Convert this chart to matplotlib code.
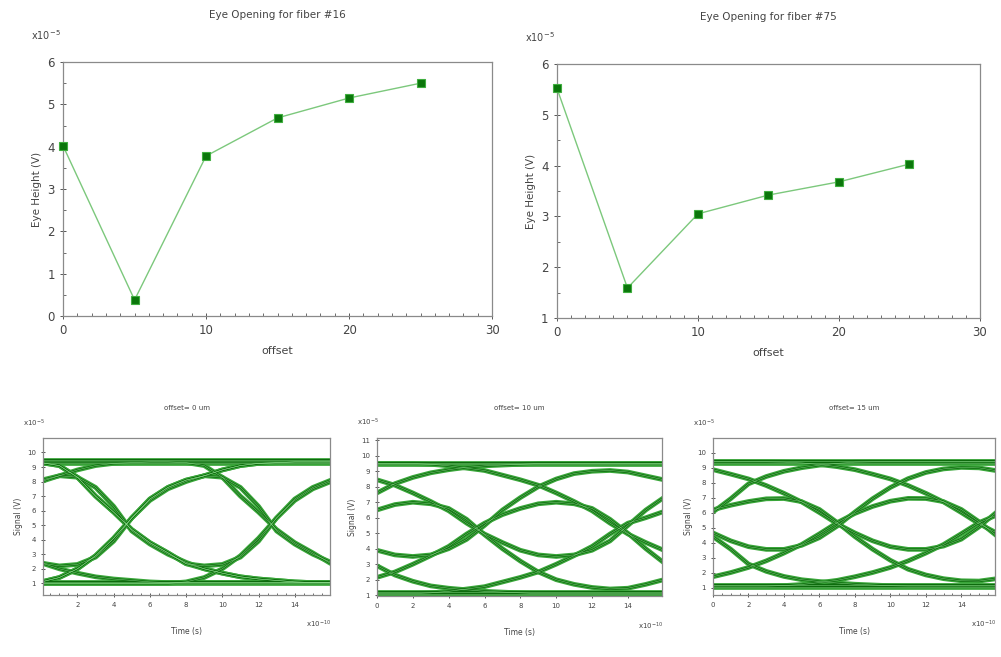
import matplotlib
matplotlib.use("Agg")
import matplotlib.pyplot as plt
from matplotlib.ticker import MultipleLocator
import numpy as np

# ---- top charts: eye height vs offset ----
offsets = [0, 5, 10, 15, 20, 25]
height_f16 = [4.02, 0.38, 3.78, 4.68, 5.15, 5.50]
height_f75 = [5.52, 1.59, 3.05, 3.42, 3.68, 4.03]

# ---- eye diagrams (time in 1e-10 s, signal in 1e-5 V) ----
t_eye = list(range(17))

eye_0um = [
    [9.45] * 17,
    [9.3] * 17,
    [1.0] * 17,
    [1.1] * 17,
    [9.3, 9.1, 8.3, 7.0, 5.9, 4.7, 3.8, 3.1, 2.35, 2.0, 1.7, 1.45, 1.3, 1.2, 1.1, 1.05, 1.05],
    [1.1, 1.4, 2.0, 2.9, 4.1, 5.5, 6.8, 7.6, 8.1, 8.4, 8.8, 9.1, 9.25, 9.3, 9.35, 9.35, 9.35],
    [1.1, 1.4, 2.0, 2.9, 4.1, 5.5, 6.8, 7.6, 8.1, 8.4, 8.3, 7.6, 6.3, 4.6, 3.7, 3.0, 2.45],
    [9.3, 9.1, 8.3, 7.0, 5.9, 4.7, 3.8, 3.1, 2.35, 2.2, 2.3, 2.8, 3.9, 5.5, 6.7, 7.5, 8.0],
    [1.0, 1.0, 1.0, 1.0, 1.0, 1.0, 1.0, 1.0, 1.1, 1.4, 2.0, 2.9, 4.1, 5.5, 6.8, 7.6, 8.1],
    [9.35, 9.35, 9.35, 9.35, 9.35, 9.35, 9.35, 9.35, 9.3, 9.1, 8.3, 7.0, 5.9, 4.7, 3.8, 3.1, 2.35],
    [8.1, 8.4, 8.3, 7.6, 6.3, 4.6, 3.7, 3.0, 2.45, 2.0, 1.7, 1.45, 1.3, 1.2, 1.1, 1.05, 1.05],
    [8.0, 8.4, 8.8, 9.1, 9.25, 9.3, 9.35, 9.35, 9.35, 9.35, 9.35, 9.35, 9.35, 9.35, 9.35, 9.35, 9.35],
    [2.4, 2.0, 1.7, 1.45, 1.3, 1.2, 1.1, 1.05, 1.05, 1.05, 1.05, 1.05, 1.05, 1.05, 1.05, 1.05, 1.05],
    [2.4, 2.2, 2.3, 2.8, 3.9, 5.5, 6.7, 7.5, 8.0, 8.4, 8.8, 9.1, 9.25, 9.3, 9.35, 9.35, 9.35],
]

eye_10um = [
    [9.55] * 17,
    [9.45] * 17,
    [1.1] * 17,
    [1.2] * 17,
    [9.5, 9.5, 9.5, 9.45, 9.35, 9.2, 9.05, 8.75, 8.45, 8.1, 7.6, 7.05, 6.45, 5.65, 4.95, 4.4, 3.9],
    [1.1, 1.1, 1.1, 1.15, 1.25, 1.4, 1.55, 1.85, 2.15, 2.5, 3.0, 3.55, 4.15, 4.95, 5.65, 6.0, 6.4],
    [8.45, 8.1, 7.6, 7.05, 6.45, 5.65, 4.95, 4.4, 3.9, 3.6, 3.5, 3.6, 3.9, 4.5, 5.5, 6.5, 7.3],
    [2.15, 2.5, 3.0, 3.55, 4.15, 4.95, 5.65, 6.2, 6.6, 6.9, 7.0, 6.9, 6.6, 5.9, 5.0, 4.0, 3.1],
    [6.5, 6.85, 7.0, 6.9, 6.6, 5.9, 4.9, 4.0, 3.2, 2.5, 2.0, 1.7, 1.5, 1.4, 1.45, 1.7, 2.0],
    [3.9, 3.6, 3.5, 3.6, 4.0, 4.6, 5.5, 6.5, 7.3, 8.0, 8.5, 8.85, 9.0, 9.05, 8.95, 8.7, 8.45],
    [7.6, 8.2, 8.6, 8.9, 9.1, 9.25, 9.35, 9.4, 9.45, 9.5, 9.5, 9.5, 9.5, 9.5, 9.5, 9.5, 9.5],
    [2.9, 2.3, 1.9, 1.6, 1.45, 1.35, 1.25, 1.2, 1.15, 1.1, 1.1, 1.1, 1.1, 1.1, 1.1, 1.1, 1.1],
]

eye_15um = [
    [9.45] * 17,
    [9.35] * 17,
    [1.05] * 17,
    [1.15] * 17,
    [9.4, 9.4, 9.4, 9.4, 9.38, 9.33, 9.22, 9.08, 8.88, 8.58, 8.26, 7.82, 7.3, 6.72, 6.01, 5.26, 4.65],
    [1.1, 1.1, 1.1, 1.1, 1.13, 1.2, 1.33, 1.48, 1.72, 2.0, 2.34, 2.78, 3.3, 3.88, 4.6, 5.34, 5.84],
    [8.88, 8.58, 8.26, 7.82, 7.3, 6.72, 6.01, 5.26, 4.65, 4.12, 3.73, 3.55, 3.55, 3.77, 4.23, 5.05, 6.05],
    [1.72, 2.0, 2.34, 2.78, 3.3, 3.88, 4.59, 5.34, 5.95, 6.42, 6.77, 6.96, 6.95, 6.74, 6.22, 5.4, 4.45],
    [6.2, 6.5, 6.75, 6.93, 6.95, 6.74, 6.22, 5.35, 4.4, 3.56, 2.82, 2.22, 1.84, 1.59, 1.45, 1.43, 1.59],
    [4.65, 4.12, 3.73, 3.55, 3.55, 3.82, 4.33, 5.1, 6.05, 6.94, 7.69, 8.28, 8.69, 8.93, 9.03, 9.0, 8.81],
    [6.05, 6.94, 7.93, 8.42, 8.77, 9.01, 9.18, 9.3, 9.38, 9.4, 9.4, 9.4, 9.4, 9.4, 9.4, 9.4, 9.4],
    [4.4, 3.56, 2.57, 2.08, 1.74, 1.52, 1.4, 1.3, 1.22, 1.17, 1.12, 1.1, 1.1, 1.1, 1.1, 1.1, 1.1],
]

eye_titles = ["offset= 0 um", "offset= 10 um", "offset= 15 um"]

txt = "#444444"
frame = "#8a8a8a"

fig = plt.figure(figsize=(10.01, 6.57), dpi=100)
fig.patch.set_facecolor("white")


def style_axes(ax, size):
    for s in ax.spines.values():
        s.set_color(frame)
        s.set_linewidth(0.9)
    ax.tick_params(which="major", direction="inout", length=5, width=0.7,
                   colors="#555555", labelcolor=txt, labelsize=size)
    ax.tick_params(which="minor", direction="in", length=2.5, width=0.6,
                   colors="#555555")
    ax.tick_params(top=False, right=False, which="both")


def top_chart(rect, values, ylim, title):
    ax = fig.add_axes(rect)
    ax.plot(offsets, values, color="#7cc87c", lw=1.0, marker="s", ms=6,
            mfc="#0b760b", mec="#3fae3f", mew=0.8, clip_on=False, zorder=3)
    ax.set_xlim(0, 30)
    ax.set_ylim(*ylim)
    ax.xaxis.set_major_locator(MultipleLocator(10))
    ax.xaxis.set_minor_locator(MultipleLocator(1))
    ax.yaxis.set_major_locator(MultipleLocator(1))
    ax.yaxis.set_minor_locator(MultipleLocator(0.5))
    style_axes(ax, 8.5)
    ax.set_title(title, fontsize=7.5, color=txt, pad=32)
    ax.set_xlabel("offset", fontsize=8, color=txt, labelpad=6)
    ax.set_ylabel("Eye Height (V)", fontsize=7.5, color=txt, labelpad=4)
    ax.text(-0.075, 1.08, r"x10$^{-5}$", transform=ax.transAxes,
            fontsize=7, color=txt, ha="left", va="bottom")
    return ax


top_chart([0.063, 0.519, 0.4286, 0.3866], height_f16, (0, 6),
          "Eye Opening for fiber #16")
top_chart([0.5564, 0.516, 0.4226, 0.3866], height_f75, (1, 6),
          "Eye Opening for fiber #75")

eye_rects = [
    [0.043, 0.0944, 0.2867, 0.239],
    [0.3766, 0.0929, 0.2847, 0.2405],
    [0.7123, 0.0944, 0.2817, 0.239],
]
eye_ylims = [(0.2, 11.0), (0.95, 11.15), (0.5, 11.0)]
eye_xlims = [(0.1, 15.95), (0, 15.9), (0, 15.9)]
eye_yticks = [range(1, 11), range(1, 12), range(1, 11)]

for rect, traces, title, yl, xl, yt in zip(eye_rects, [eye_0um, eye_10um, eye_15um],
                                           eye_titles, eye_ylims, eye_xlims, eye_yticks):
    ax = fig.add_axes(rect)
    for tr in traces:
        ax.plot(t_eye, tr, color="#3aa63a", lw=3.4, solid_capstyle="butt")
    for tr in traces:
        ax.plot(t_eye, tr, color="#0d6b0d", lw=1.5, solid_capstyle="butt")
    for tr in traces:
        ax.plot(t_eye, tr, color="#8fe08f", lw=0.4, alpha=0.8)
    ax.set_xlim(*xl)
    ax.set_ylim(*yl)
    ax.set_yticks(list(yt))
    ax.xaxis.set_major_locator(MultipleLocator(2))
    ax.xaxis.set_minor_locator(MultipleLocator(0.5))
    style_axes(ax, 5)
    ax.tick_params(which="major", length=3)
    ax.tick_params(which="minor", length=1.8)
    ax.set_title(title, fontsize=5, color=txt, pad=20)
    ax.set_xlabel("Time (s)", fontsize=5.5, color=txt, labelpad=14)
    ax.set_ylabel("Signal (V)", fontsize=5.5, color=txt, labelpad=3)
    ax.text(-0.07, 1.06, r"x10$^{-5}$", transform=ax.transAxes,
            fontsize=5, color=txt, ha="left", va="bottom")
    ax.text(0.96, -0.19, r"x10$^{-10}$", transform=ax.transAxes,
            fontsize=5, color=txt, ha="center", va="center")

fig.savefig("out.png", dpi=100, facecolor="white")
